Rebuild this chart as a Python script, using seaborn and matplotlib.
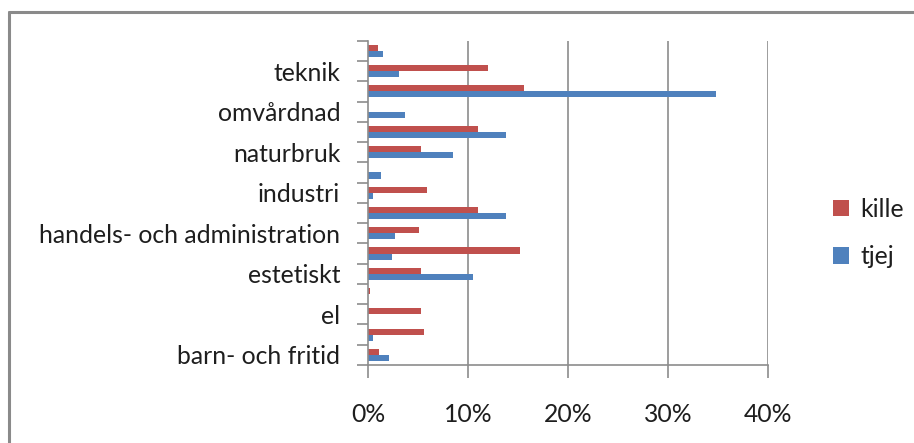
import matplotlib
matplotlib.use("Agg")
import matplotlib.pyplot as plt
import seaborn as sns
import pandas as pd
from matplotlib.lines import Line2D
from matplotlib.ticker import FixedLocator, FuncFormatter

# categories listed top to bottom as drawn
categories = ["övrigt", "teknik", "samhällsvetenskap", "omvårdnad",
              "naturvetenskap", "naturbruk", "medie", "industri",
              "hotell- och restaurang", "handels- och administration", "fordon",
              "estetiskt", "energi", "el", "bygg", "barn- och fritid"]
shown_labels = ["", "teknik", "", "omvårdnad", "", "naturbruk", "", "industri",
                "", "handels- och administration", "", "estetiskt", "", "el",
                "", "barn- och fritid"]
kille = [1.0, 12.0, 15.6, 0.0, 11.0, 5.3, 0.0, 5.9,
         11.0, 5.1, 15.2, 5.3, 0.2, 5.3, 5.6, 1.1]
tjej = [1.5, 3.1, 34.8, 3.7, 13.8, 8.5, 1.3, 0.5,
        13.8, 2.7, 2.4, 10.5, 0.0, 0.0, 0.5, 2.1]
series = ["kille", "tjej"]
x_ticks = [0, 10, 20, 30, 40]

df = pd.DataFrame({
    "kategori": categories * 2,
    "andel": kille + tjej,
    "kön": ["kille"] * len(categories) + ["tjej"] * len(categories),
})

sns.set_style("white")
plt.rcParams["font.family"] = ["Lato", "DejaVu Sans"]
fs = 17.8
txt = "#1e1e1e"
grid_c = "#8c8c8c"

fig = plt.figure(figsize=(9.14, 4.43), dpi=100)
ax = fig.add_axes([368 / 914, 1 - 365 / 443, 400 / 914, (365 - 40.7) / 443])

sns.barplot(data=df, y="kategori", x="andel", hue="kön", order=categories,
            hue_order=series, palette=["#C0504D", "#4F81BD"], orient="h",
            width=0.6, ax=ax, legend=True, saturation=1, linewidth=0)

ax.set_xlim(0, 40)
ax.set_ylim(len(categories) - 0.5, -0.5)
ax.set_xlabel("")
ax.set_ylabel("")
ax.xaxis.set_major_locator(FixedLocator(x_ticks))
ax.xaxis.set_major_formatter(FuncFormatter(lambda v, p: f"{int(v)}%"))
for v in x_ticks[1:]:
    ax.axvline(v, color=grid_c, lw=1.2, zorder=0)

ax.set_yticks(range(len(categories)))
ax.set_yticklabels(shown_labels)
ax.yaxis.set_minor_locator(FixedLocator([i - 0.5 for i in range(len(categories) + 1)]))
ax.tick_params(axis="y", which="major", length=0, pad=20, labelsize=fs, labelcolor=txt)
ax.tick_params(axis="y", which="minor", length=8, width=1.2, color=grid_c, direction="out", left=True)
ax.tick_params(axis="x", which="major", length=9, width=1.2, color=grid_c, direction="out",
               bottom=True, pad=18, labelsize=fs, labelcolor=txt)

for s in ["top", "right"]:
    ax.spines[s].set_visible(False)
for s in ["left", "bottom"]:
    ax.spines[s].set_color(grid_c)
    ax.spines[s].set_linewidth(1.2)

handles, labels = ax.get_legend_handles_labels()
ax.legend(handles, labels, loc="center left", bbox_to_anchor=(811 / 914, 1 - 233 / 443),
          bbox_transform=fig.transFigure, frameon=False, fontsize=fs,
          handlelength=0.65, handleheight=0.65, handletextpad=0.45, labelspacing=1.0,
          labelcolor=txt)

# outer chart frame (top and left edges visible)
fig.add_artist(Line2D([9 / 914, 1.0], [1 - 12 / 443, 1 - 12 / 443], color="#8a8a8a", lw=2.2,
                      transform=fig.transFigure))
fig.add_artist(Line2D([9 / 914, 9 / 914], [0, 1 - 12 / 443], color="#8a8a8a", lw=2.2,
                      transform=fig.transFigure))

fig.savefig("out.png", dpi=100)
